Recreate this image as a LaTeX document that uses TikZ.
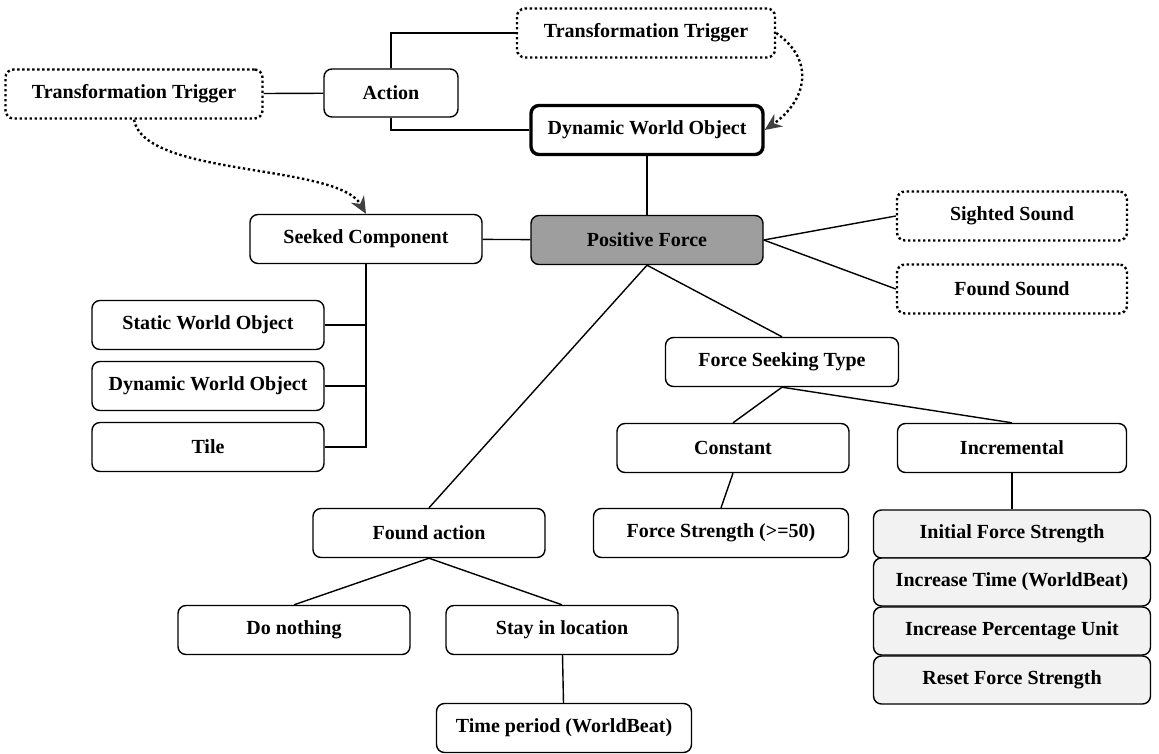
\documentclass[tikz,border=0pt]{standalone}
\usepackage{fontspec}
\setmainfont{Liberation Serif}
\usetikzlibrary{arrows.meta}

\begin{document}
\begin{tikzpicture}[
                    x=1pt,
                    y=-1pt,
                    every node/.style={
                        font=\fontsize{20}{24}\selectfont\bfseries,
                        inner sep=0pt
                    },
                    compbox/.style={
                        draw,
                        rounded corners=8pt,
                        line width=1.4pt,
                        fill=white,
                        minimum width=232pt,
                        minimum height=49pt
                    },
                    trigbox/.style={
                        compbox,
                        line width=2.4pt,
                        dash pattern=on 2.4pt off 2.6pt
                    },
                    stackbox/.style={
                        compbox,
                        fill=black!5,
                        minimum width=277pt,
                        minimum height=48pt
                    },
                    conn/.style={
                        line width=1.4pt
                    },
                    trigarrow/.style={
                        line width=2.4pt,
                        dash pattern=on 2.4pt off 2.6pt,
                        -{Stealth[length=17pt,width=15pt,color=black!75]}
                    }
                ]
                    \useasboundingbox (0,0) rectangle (1159,754);
                    \node[trigbox, minimum width=257pt] (ttleft) at (134,94) {Transformation Trigger};
                    \node[compbox, minimum width=134pt, minimum height=48pt] (action) at (391,93) {Action};
                    \node[trigbox, minimum width=258pt] (tttop) at (646,33) {Transformation Trigger};
                    \node[compbox, line width=3.4pt] (dwotop) at (647,130) {Dynamic World Object};
                    \node[compbox] (seeked) at (366,239) {Seeked Component};
                    \node[compbox, fill=black!38] (posforce) at (647,240) {Positive Force};
                    \node[trigbox, minimum width=230pt] (sighted) at (1012,216) {Sighted Sound};
                    \node[trigbox, minimum width=230pt] (foundsnd) at (1012,289) {Found Sound};
                    \node[compbox] (static) at (208,325) {Static World Object};
                    \node[compbox] (dwoleft) at (208,386) {Dynamic World Object};
                    \node[compbox] (tile) at (208,447) {Tile};
                    \node[compbox, minimum width=233pt] (seektype) at (782,362) {Force Seeking Type};
                    \node[compbox] (constant) at (733,448) {Constant};
                    \node[compbox, minimum width=229pt] (incr) at (1012,448) {Incremental};
                    \node[compbox, minimum width=255pt] (strength) at (721,533) {Force Strength (>=50)};
                    \node[compbox] (foundact) at (429,533) {Found action};
                    \node[compbox] (nothing) at (294,630) {Do nothing};
                    \node[compbox] (stay) at (562,630) {Stay in location};
                    \node[compbox, minimum width=255pt] (period) at (564,728) {Time period (WorldBeat)};
                    \node[stackbox] (initial) at (1012,534) {Initial Force Strength};
                    \node[stackbox] (inctime) at (1012,582) {Increase Time (WorldBeat)};
                    \node[stackbox] (incunit) at (1012,631) {Increase Percentage Unit};
                    \node[stackbox] (reset) at (1012,680) {Reset Force Strength};

                    \draw[conn] (ttleft) -- (action);
                    \draw[conn] (action.north) |- (tttop.west);
                    \draw[conn] (action.south) |- (dwotop.west);
                    \draw[conn] (dwotop) -- (posforce);
                    \draw[conn] (seeked) -- (posforce);
                    \draw[conn] (posforce.east) -- (sighted.west);
                    \draw[conn] (posforce.east) -- (foundsnd.west);
                    \draw[conn] (seeked.south) |- (tile.east);
                    \draw[conn] (seeked.south |- static.east) -- (static.east);
                    \draw[conn] (seeked.south |- dwoleft.east) -- (dwoleft.east);
                    \draw[conn] (posforce.south) -- (foundact.north);
                    \draw[conn] (posforce.south) -- (seektype.north);
                    \draw[conn] (seektype.south) -- (constant.north);
                    \draw[conn] (seektype.south) -- (incr.north);
                    \draw[conn] (constant.south) -- (strength.north);
                    \draw[conn] (incr) -- (initial);
                    \draw[conn] (foundact.south) -- (nothing.north);
                    \draw[conn] (foundact.south) -- (stay.north);
                    \draw[conn] (stay) -- (period);
                    \draw[trigarrow] (tttop.east) to[out=-35, in=35, looseness=1.3] (dwotop.east);
                    \draw[trigarrow] (ttleft.south) to[out=-80, in=120, looseness=0.6] (seeked.north);
                \end{tikzpicture}
\end{document}
